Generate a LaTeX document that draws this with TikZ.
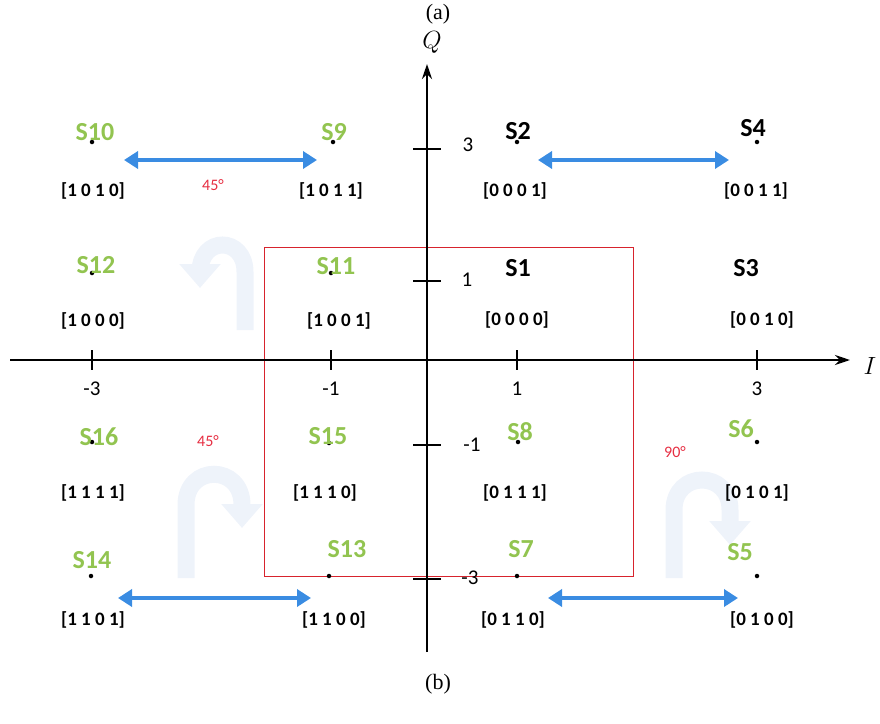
\documentclass[tikz,border=0pt]{standalone}
\usepackage{fontspec}
\setmainfont{Carlito}
\newfontfamily\capfont{Liberation Serif}
\usetikzlibrary{arrows.meta}
\definecolor{sgreen}{RGB}{146,196,80}
\definecolor{ablue}{RGB}{58,140,226}
\definecolor{rrect}{RGB}{215,35,45}
\definecolor{rtext}{RGB}{230,45,65}
\definecolor{pale}{RGB}{238,243,250}
\tikzset{
  slab/.style={font=\fontsize{26}{28}\selectfont\bfseries, text=sgreen, inner sep=0pt},
  sblk/.style={font=\fontsize{26}{28}\selectfont\bfseries, text=black, inner sep=0pt},
  bits/.style={font=\fontsize{19}{21}\selectfont\bfseries, inner sep=0pt},
  tlab/.style={font=\fontsize{21}{23}\selectfont, inner sep=0pt},
  deg/.style={font=\fontsize{16}{18}\selectfont, text=rtext, inner sep=0pt},
  axis/.style={line width=2.6pt, -{Stealth[length=15pt,width=10pt]}},
  tick/.style={line width=2.6pt},
  dbl/.style={line width=4.5pt, ablue, {Triangle[length=14pt,width=17pt]}-{Triangle[length=14pt,width=17pt]}},
  uturn/.style={line width=17pt, pale, -{Triangle[length=24pt,width=40pt]}},
  dotp/.style={circle, fill=black, inner sep=0pt, minimum size=4.5pt},
}
\begin{document}
\begin{tikzpicture}[x=1pt,y=-1pt]
\useasboundingbox (0,0) rectangle (880,723);
% captions
\node[font=\capfont\fontsize{22}{24}\selectfont] (capa) at (438,14) {(a)};
\node[font=\capfont\fontsize{22}{24}\selectfont] (capb) at (438,684) {(b)};
% pale U-turn arrows
\draw[uturn] (245,330) -- (245,272) .. controls (245,236) and (200,236) .. (200,272) -- (200,288);
\draw[uturn] (186,578) -- (186,505) .. controls (186,464) and (242,464) .. (242,505) -- (242,528);
\draw[uturn] (674,578) -- (674,510) .. controls (674,470) and (730,470) .. (730,510) -- (730,545);
% red rectangle
\draw[rrect, line width=0.9pt] (264,247) rectangle (633,576);
% axes
\coordinate (xs) at (10,360); \coordinate (xe) at (850,360);
\coordinate (ys) at (427,652); \coordinate (ye) at (427,64);
\draw[axis] (xs) -- (xe);
\draw[axis] (ys) -- (ye);
\node[font=\fontsize{36}{38}\selectfont] (ilab) at (870,366) {$I$};
\node[font=\fontsize{28}{30}\selectfont] (qlab) at (432,42) {$Q$};
% ticks on I axis
\foreach \x/\t in {92/-3,331/-1,517/1,757/3}{
  \draw[tick] (\x,350) -- (\x,370);
  \node[tlab] at (\x,389) {\t};
}
% ticks on Q axis
\draw[tick] (413,149) -- (441,149); \node[tlab] (q3) at (468,145) {3};
\draw[tick] (413,281) -- (441,281); \node[tlab] (q1) at (467,280) {1};
\draw[tick] (413,445) -- (441,445); \node[tlab] (qm1) at (472,445) {-1};
\draw[tick] (413,579) -- (441,579); \node[tlab] (qm3) at (470,578) {-3};
% dots
\foreach \n/\x/\y in {d10/92/142,d9/333/142,d2/517/142,d4/757/142,
  d12/92/273,d11/331/273,
  d16/92/442,d15/329/443,d8/518/442,d6/757/442,
  d14/91/576,d13/329/576,d7/517/576,d5/757/576}{
  \node[dotp] (\n) at (\x,\y) {};
}
% state labels
\node[slab] (s10) at (95,132) {S10};
\node[slab] (s9) at (334,132) {S9};
\node[sblk] (s2) at (518,131) {S2};
\node[sblk] (s4) at (753,128) {S4};
\node[slab] (s12) at (96,265) {S12};
\node[slab] (s11) at (336,266) {S11};
\node[sblk] (s1) at (518,268) {S1};
\node[sblk] (s3) at (746,268) {S3};
\node[slab] (s16) at (99,437) {S16};
\node[slab] (s15) at (328,436) {S15};
\node[slab] (s8) at (520,432) {S8};
\node[slab] (s6) at (741,429) {S6};
\node[slab] (s14) at (92,560) {S14};
\node[slab] (s13) at (347,549) {S13};
\node[slab] (s7) at (521,549) {S7};
\node[slab] (s5) at (740,552) {S5};
% bit labels
\node[bits] (b10) at (93,191) {[1 0 1 0]};
\node[bits] (b9) at (331,191) {[1 0 1 1]};
\node[bits] (b2) at (515,191) {[0 0 0 1]};
\node[bits] (b4) at (756,191) {[0 0 1 1]};
\node[bits] (b12) at (93,321) {[1 0 0 0]};
\node[bits] (b11) at (339,321) {[1 0 0 1]};
\node[bits] (b1) at (517,320) {[0 0 0 0]};
\node[bits] (b3) at (762,320) {[0 0 1 0]};
\node[bits] (b16) at (93,493) {[1 1 1 1]};
\node[bits] (b15) at (325,493) {[1 1 1 0]};
\node[bits] (b8) at (515,493) {[0 1 1 1]};
\node[bits] (b6) at (757,493) {[0 1 0 1]};
\node[bits] (b14) at (93,620) {[1 1 0 1]};
\node[bits] (b13) at (334,620) {[1 1 0 0]};
\node[bits] (b7) at (513,620) {[0 1 1 0]};
\node[bits] (b5) at (762,620) {[0 1 0 0]};
% blue double arrows
\coordinate (a1l) at (124,160); \coordinate (a1r) at (317,160);
\coordinate (a2l) at (538,160); \coordinate (a2r) at (729,160);
\coordinate (a3l) at (118,598); \coordinate (a3r) at (311,598);
\coordinate (a4l) at (548,598); \coordinate (a4r) at (738,598);
\draw[dbl] (a1l) -- (a1r);
\draw[dbl] (a2l) -- (a2r);
\draw[dbl] (a3l) -- (a3r);
\draw[dbl] (a4l) -- (a4r);
% angle labels
\node[deg] (g1) at (213,185) {45°};
\node[deg] (g2) at (208,441) {45°};
\node[deg] (g3) at (675,452) {90°};
\end{tikzpicture}
\end{document}
